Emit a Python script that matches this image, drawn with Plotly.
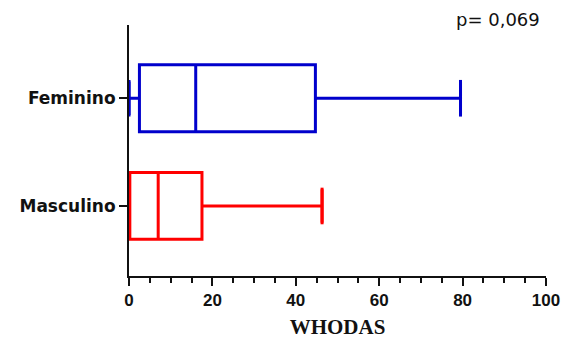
import plotly.graph_objects as go

# WHODAS summary statistics by sex
groups = ["Masculino", "Feminino"]
positions = [0, 1]
colors = ["#ff0000", "#0000cc"]
minimum = [0.0, 0.0]
q1 = [0.2, 2.5]
median = [7.0, 16.0]
q3 = [17.5, 44.7]
maximum = [46.3, 79.5]
p_label = "p= 0,069"

fig = go.Figure()
cap_half = 0.17
for i, g in enumerate(groups):
    fig.add_trace(go.Box(
        y=[positions[i]], orientation="h",
        q1=[q1[i]], median=[median[i]], q3=[q3[i]],
        lowerfence=[minimum[i]], upperfence=[maximum[i]],
        name=g, line=dict(color=colors[i], width=3),
        fillcolor="rgba(255,255,255,0)", width=0.62,
        boxpoints=False, hoverinfo="skip", showlegend=False,
    ))
    # whisker caps at the extremes
    for v in (minimum[i], maximum[i]):
        fig.add_trace(go.Scatter(
            x=[v, v], y=[positions[i] - cap_half, positions[i] + cap_half],
            mode="lines", line=dict(color=colors[i], width=3),
            showlegend=False, hoverinfo="skip",
        ))

fig.add_annotation(
    text=p_label, xref="paper", yref="paper", x=0.99, y=1.02,
    xanchor="right", yanchor="middle", showarrow=False,
    font=dict(family="DejaVu Sans", size=18, color="#111"),
)

fig.update_layout(
    width=569, height=339,
    margin=dict(l=129, r=23, t=25, b=63),
    plot_bgcolor="white", paper_bgcolor="white",
    xaxis=dict(
        range=[0, 100], tickvals=[0, 20, 40, 60, 80, 100],
        automargin=False,
        showgrid=False, zeroline=False,
        showline=True, linecolor="#111", linewidth=2,
        ticks="outside", ticklen=8, tickwidth=2, tickcolor="#111",
        minor=dict(dtick=5, ticks="outside", ticklen=5, tickwidth=2, tickcolor="#111"),
        tickfont=dict(family="Liberation Sans, Arial", size=17, color="#111", weight="bold"),
        title=dict(text="<b>WHODAS</b>", font=dict(family="Liberation Serif, Times New Roman", size=21, color="#111"), standoff=13),
    ),
    yaxis=dict(
        range=[-0.65, 1.68], tickvals=positions, ticktext=groups,
        automargin=False,
        showgrid=False, zeroline=False,
        showline=True, linecolor="#111", linewidth=2,
        ticks="outside", ticklen=8, tickwidth=2, tickcolor="#111",
        tickfont=dict(family="DejaVu Sans", size=17, color="#111", weight="bold"),
    ),
)

fig.write_html("out.html")
